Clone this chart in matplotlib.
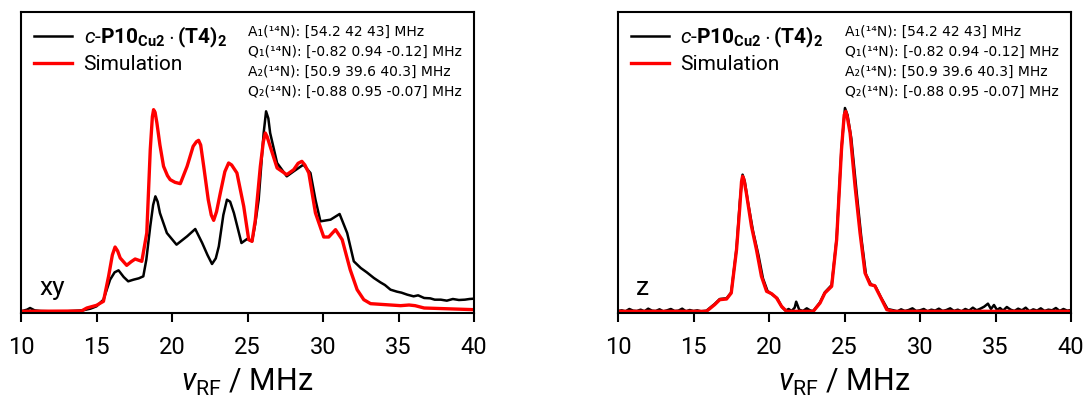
import matplotlib
matplotlib.use('Agg')
import matplotlib.pyplot as plt
from matplotlib import font_manager

# ENDOR spectra (intensity in arbitrary units)
xy_exp_mhz = [10.0, 10.4, 10.6, 10.9, 11.3, 12.0, 13.0, 14.1, 14.6, 15.0, 15.46, 15.9, 16.2, 16.46, 16.8,
              17.1, 17.45, 17.8, 18.1, 18.3, 18.56, 18.75, 18.9, 19.05, 19.2, 19.66, 20.3, 21.0, 21.54,
              22.0, 22.35, 22.65, 22.9, 23.1, 23.4, 23.64, 23.85, 24.1, 24.6, 24.97, 25.3, 25.5, 25.74,
              26.07, 26.23, 26.38, 26.5, 26.96, 27.6, 28.06, 28.7, 29.17, 29.5, 29.83, 30.5, 31.1, 31.6,
              32.04, 32.5, 32.9, 33.37, 33.8, 34.1, 34.47, 34.9, 35.2, 35.58, 36.0, 36.3, 36.7, 37.1,
              37.4, 37.8, 38.2, 38.6, 39.0, 39.4, 39.7, 40.0]
xy_exp_int = [1, 6, 11, 4, 2, 1, 1, 4, 9, 16, 36, 96, 118, 124, 104,
              91, 96, 100, 106, 156, 256, 320, 346, 330, 296, 236, 201, 226, 248,
              206, 170, 143, 160, 196, 290, 336, 330, 296, 206, 218, 211, 260, 336,
              536, 601, 580, 536, 446, 406, 421, 441, 416, 336, 271, 276, 293, 236,
              151, 131, 118, 101, 88, 80, 66, 60, 57, 51, 46, 49, 41, 40,
              36, 36, 33, 38, 35, 36, 38, 39]

xy_sim_mhz = [10.0, 14.0, 14.36, 15.0, 15.46, 15.8, 16.05, 16.23, 16.4, 16.57, 17.0, 17.3, 17.56, 18.0,
              18.33, 18.56, 18.7, 18.78, 18.88, 19.0, 19.2, 19.44, 19.7, 19.88, 20.2, 20.55, 21.0, 21.4,
              21.62, 21.76, 21.9, 22.1, 22.4, 22.6, 22.76, 22.95, 23.2, 23.5, 23.75, 23.95, 24.3, 24.75,
              25.08, 25.3, 25.52, 25.85, 26.05, 26.18, 26.3, 26.5, 26.96, 27.6, 28.06, 28.35, 28.6,
              28.8, 29.06, 29.5, 30.05, 30.38, 30.83, 31.27, 31.8, 32.26, 32.7, 33.15, 35.14, 35.7,
              36.1, 36.7, 40.0]
xy_sim_int = [1, 2, 11, 19, 31, 106, 170, 194, 182, 161, 139, 150, 158, 151,
              236, 486, 585, 606, 598, 566, 500, 436, 408, 396, 388, 384, 436, 496,
              510, 514, 500, 436, 336, 290, 274, 300, 356, 420, 446, 440, 416, 316,
              216, 211, 276, 436, 510, 536, 525, 496, 431, 411, 426, 445, 451,
              440, 416, 296, 224, 224, 246, 216, 126, 66, 36, 24, 18, 20,
              18, 11, 6]

z_exp_mhz = [10.0, 10.25, 10.5, 10.75, 11.0, 11.25, 11.5, 11.75, 12.0, 12.25, 12.5, 12.75, 13.0, 13.25,
             13.5, 13.75, 14.0, 14.25, 14.5, 14.75, 15.0, 15.25, 15.5, 15.86, 16.4, 16.74, 17.19,
             17.5, 17.85, 18.07, 18.25, 18.4, 18.6, 18.95, 19.3, 19.6, 19.9, 20.2, 20.55, 20.85,
             21.1, 21.3, 21.5, 21.7, 21.8, 22.0, 22.25, 22.5, 22.75, 22.93, 23.38, 23.7, 24.15, 24.48,
             24.8, 25.03, 25.2, 25.45, 25.8, 26.12, 26.42, 26.75, 27.05, 27.4, 27.85, 28.25, 28.5,
             28.75, 29.0, 29.25, 29.5, 29.75, 30.0, 30.25, 30.5, 30.75, 31.0, 31.25, 31.5, 31.75,
             32.0, 32.25, 32.5, 32.75, 33.0, 33.25, 33.5, 33.75, 34.0, 34.25, 34.5, 34.7, 34.9,
             35.1, 35.3, 35.5, 35.75, 36.0, 36.25, 36.5, 36.75, 37.0, 37.25, 37.5, 37.75, 38.0,
             38.25, 38.5, 38.75, 39.0, 39.25, 39.5, 39.75, 40.0]
z_exp_int = [2, 4, 1, 8, 3, 2, 6, 1, 9, 3, 2, 7, 1, 4,
             8, 2, 3, 9, 1, 5, 2, 4, 1, 3, 23, 38, 40,
             58, 190, 330, 411, 390, 330, 240, 170, 100, 62, 52, 40, 14,
             3, 8, 2, 12, 30, 6, 2, 10, 3, 2, 28, 58, 80, 220,
             490, 611, 590, 520, 360, 220, 112, 82, 76, 44, 8, 4, 1,
             7, 2, 5, 10, 2, 4, 8, 1, 6, 3, 9, 2, 5,
             10, 2, 6, 1, 8, 3, 12, 4, 9, 15, 24, 8, 20,
             5, 11, 3, 14, 6, 2, 9, 4, 12, 1, 7, 3, 10,
             2, 6, 4, 11, 2, 8, 3, 5]

z_sim_mhz = [10.0, 15.86, 16.4, 16.74, 17.19, 17.5, 17.85, 18.07, 18.18, 18.25, 18.33, 18.5, 18.84,
             19.17, 19.5, 19.84, 20.17, 20.5, 20.83, 21.16, 22.93, 23.38, 23.7, 24.15, 24.48, 24.8,
             24.98, 25.08, 25.18, 25.37, 25.7, 26.03, 26.36, 26.7, 27.0, 27.36, 27.8, 28.24, 40.0]
z_sim_int = [1, 1, 21, 36, 38, 56, 186, 316, 390, 406, 398, 356, 256,
             186, 106, 61, 54, 41, 16, 1, 1, 26, 56, 76, 216, 486,
             590, 601, 585, 536, 376, 236, 116, 81, 78, 46, 6, 1, 1]

x_ticks = [10, 15, 20, 25, 30, 35, 40]
legend_labels = [r'$\mathit{c}$-$\mathbf{P10}_{\mathbf{Cu2}}\cdot\mathbf{(T4)}_{\mathbf{2}}$', 'Simulation']
hf_lines = ['A\u2081(\u00b9\u2074N): [54.2 42 43] MHz',
            'Q\u2081(\u00b9\u2074N): [-0.82 0.94 -0.12] MHz',
            'A\u2082(\u00b9\u2074N): [50.9 39.6 40.3] MHz',
            'Q\u2082(\u00b9\u2074N): [-0.88 0.95 -0.07] MHz']
panels = [('xy', xy_exp_mhz, xy_exp_int, xy_sim_mhz, xy_sim_int),
          ('z', z_exp_mhz, z_exp_int, z_sim_mhz, z_sim_int)]


def pickFont(names):
    for n in names:
        try:
            font_manager.findfont(font_manager.FontProperties(family=n), fallback_to_default=False)
            return n
        except Exception:
            pass
    return 'DejaVu Sans'


fam = pickFont(['Roboto', 'Lato'])
plt.rcParams['font.family'] = [fam, 'DejaVu Sans']
plt.rcParams['mathtext.fontset'] = 'custom'
plt.rcParams['mathtext.rm'] = fam
plt.rcParams['mathtext.it'] = fam + ':italic'
plt.rcParams['mathtext.bf'] = fam + ':bold'

fig = plt.figure(figsize=(10.86, 3.98), dpi=100)
lefts = [21 / 1086, 618 / 1086]

for left, (tag, xe, ye, xs, ys) in zip(lefts, panels):
    ax = fig.add_axes([left, 85 / 398, 453 / 1086, 301 / 398])
    ax.plot(xe, ye, color='black', lw=1.8, label=legend_labels[0])
    ax.plot(xs, ys, color='#ff0000', lw=2.4, label=legend_labels[1])
    ax.set_xlim(10, 40)
    ax.set_ylim(-4, 899)
    ax.set_yticks([])
    ax.set_xticks(x_ticks)
    ax.tick_params(axis='x', direction='out', length=6.5, width=1.5, labelsize=17, pad=10)
    for s in ax.spines.values():
        s.set_linewidth(1.5)
    ax.set_xlabel(r'$\nu_\mathrm{RF}$ / MHz', fontsize=22, labelpad=6)
    ax.text(0.04, 0.06, tag, transform=ax.transAxes, fontsize=19)
    for i, t in enumerate(hf_lines):
        ax.text(0.502, 0.920 - i * 0.0665, t, transform=ax.transAxes, fontsize=10,
                va='baseline', family=['DejaVu Sans'])
    ax.legend(loc='upper left', frameon=False, fontsize=15, handlelength=1.85,
              handletextpad=0.55, borderaxespad=0.3, borderpad=0.3, labelspacing=0.25)

fig.savefig('out.png', dpi=100)
